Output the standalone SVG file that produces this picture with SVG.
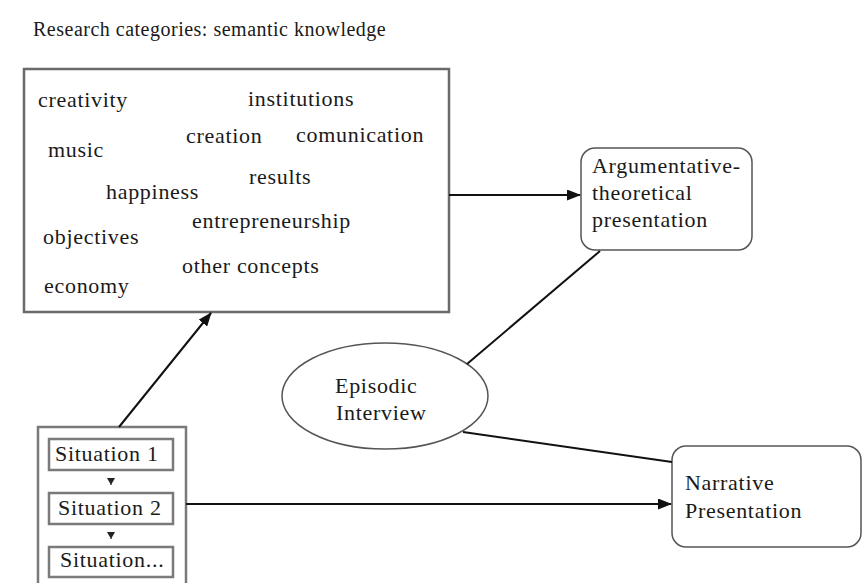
<svg xmlns="http://www.w3.org/2000/svg" width="864" height="583" viewBox="0 0 864 583">
<style>
text{font-family:"Liberation Serif","Times New Roman",serif;font-size:22px;letter-spacing:0.7px;fill:#1a1a1a}
.title{font-size:20px;letter-spacing:0.5px}
.box{fill:#fff;stroke:#6a6a6a;stroke-width:2.5}
.sbox{fill:#fff;stroke:#7a7a7a;stroke-width:2.5}
.rbox{fill:#fff;stroke:#555;stroke-width:1.5}
.conn{stroke:#111;stroke-width:2;fill:none}
</style>
<defs>
<marker id="ah" markerWidth="14" markerHeight="11" refX="13" refY="5.5" orient="auto" markerUnits="userSpaceOnUse">
<path d="M0,0 L14,5.5 L0,11 Z" fill="#111"/>
</marker>
<marker id="ahs" markerWidth="8" markerHeight="7" refX="4" refY="7" orient="0" markerUnits="userSpaceOnUse">
<path d="M0,0 L8,0 L4,7 Z" fill="#222"/>
</marker>
</defs>
<text class="title" x="33" y="36">Research categories: semantic knowledge</text>
<g id="concepts">
<rect class="box" x="24" y="69" width="425" height="243"/>
<text x="38" y="107">creativity</text>
<text x="248" y="106">institutions</text>
<text x="186" y="143">creation</text>
<text x="296" y="142">comunication</text>
<text x="48" y="157">music</text>
<text x="249" y="184">results</text>
<text x="106" y="199">happiness</text>
<text x="192" y="228">entrepreneurship</text>
<text x="43" y="244">objectives</text>
<text x="182" y="273">other concepts</text>
<text x="44" y="293">economy</text>
</g>
<g id="argumentative">
<rect class="rbox" x="581" y="148" width="171" height="102" rx="14"/>
<text x="592" y="173">Argumentative-</text>
<text x="592" y="200">theoretical</text>
<text x="592" y="227">presentation</text>
</g>
<g id="episodic">
<ellipse class="rbox" cx="385" cy="396" rx="103" ry="53"/>
<text x="335" y="393">Episodic</text>
<text x="336" y="420">Interview</text>
</g>
<g id="narrative">
<rect class="rbox" x="672" y="446" width="189" height="101" rx="14"/>
<text x="685" y="490">Narrative</text>
<text x="685" y="518">Presentation</text>
</g>
<g id="situations">
<rect class="sbox" x="38" y="427" width="148" height="170"/>
<g id="situation1">
<rect class="sbox" x="49" y="439" width="124" height="31" stroke-width="2"/>
<text x="55" y="461">Situation 1</text>
</g>
<g id="situation2">
<rect class="sbox" x="49" y="493" width="124" height="31" stroke-width="2"/>
<text x="58" y="515">Situation 2</text>
</g>
<g id="situation3">
<rect class="sbox" x="49" y="547" width="124" height="30" stroke-width="2"/>
<text x="60" y="567">Situation...</text>
</g>
</g>
<g id="connectors">
<line class="conn" x1="119" y1="427" x2="211" y2="313" marker-end="url(#ah)"/>
<line class="conn" x1="449" y1="195" x2="580" y2="195" marker-end="url(#ah)"/>
<line class="conn" x1="186" y1="504" x2="671" y2="504" marker-end="url(#ah)"/>
<line class="conn" x1="467" y1="364" x2="600" y2="251" stroke-width="1.8"/>
<line class="conn" x1="463" y1="432" x2="672" y2="462" stroke-width="1.8"/>
<line stroke="#222" stroke-width="1" x1="111" y1="484" x2="111" y2="485" marker-end="url(#ahs)"/>
<line stroke="#222" stroke-width="1" x1="111" y1="538" x2="111" y2="539" marker-end="url(#ahs)"/>
</g>
</svg>
